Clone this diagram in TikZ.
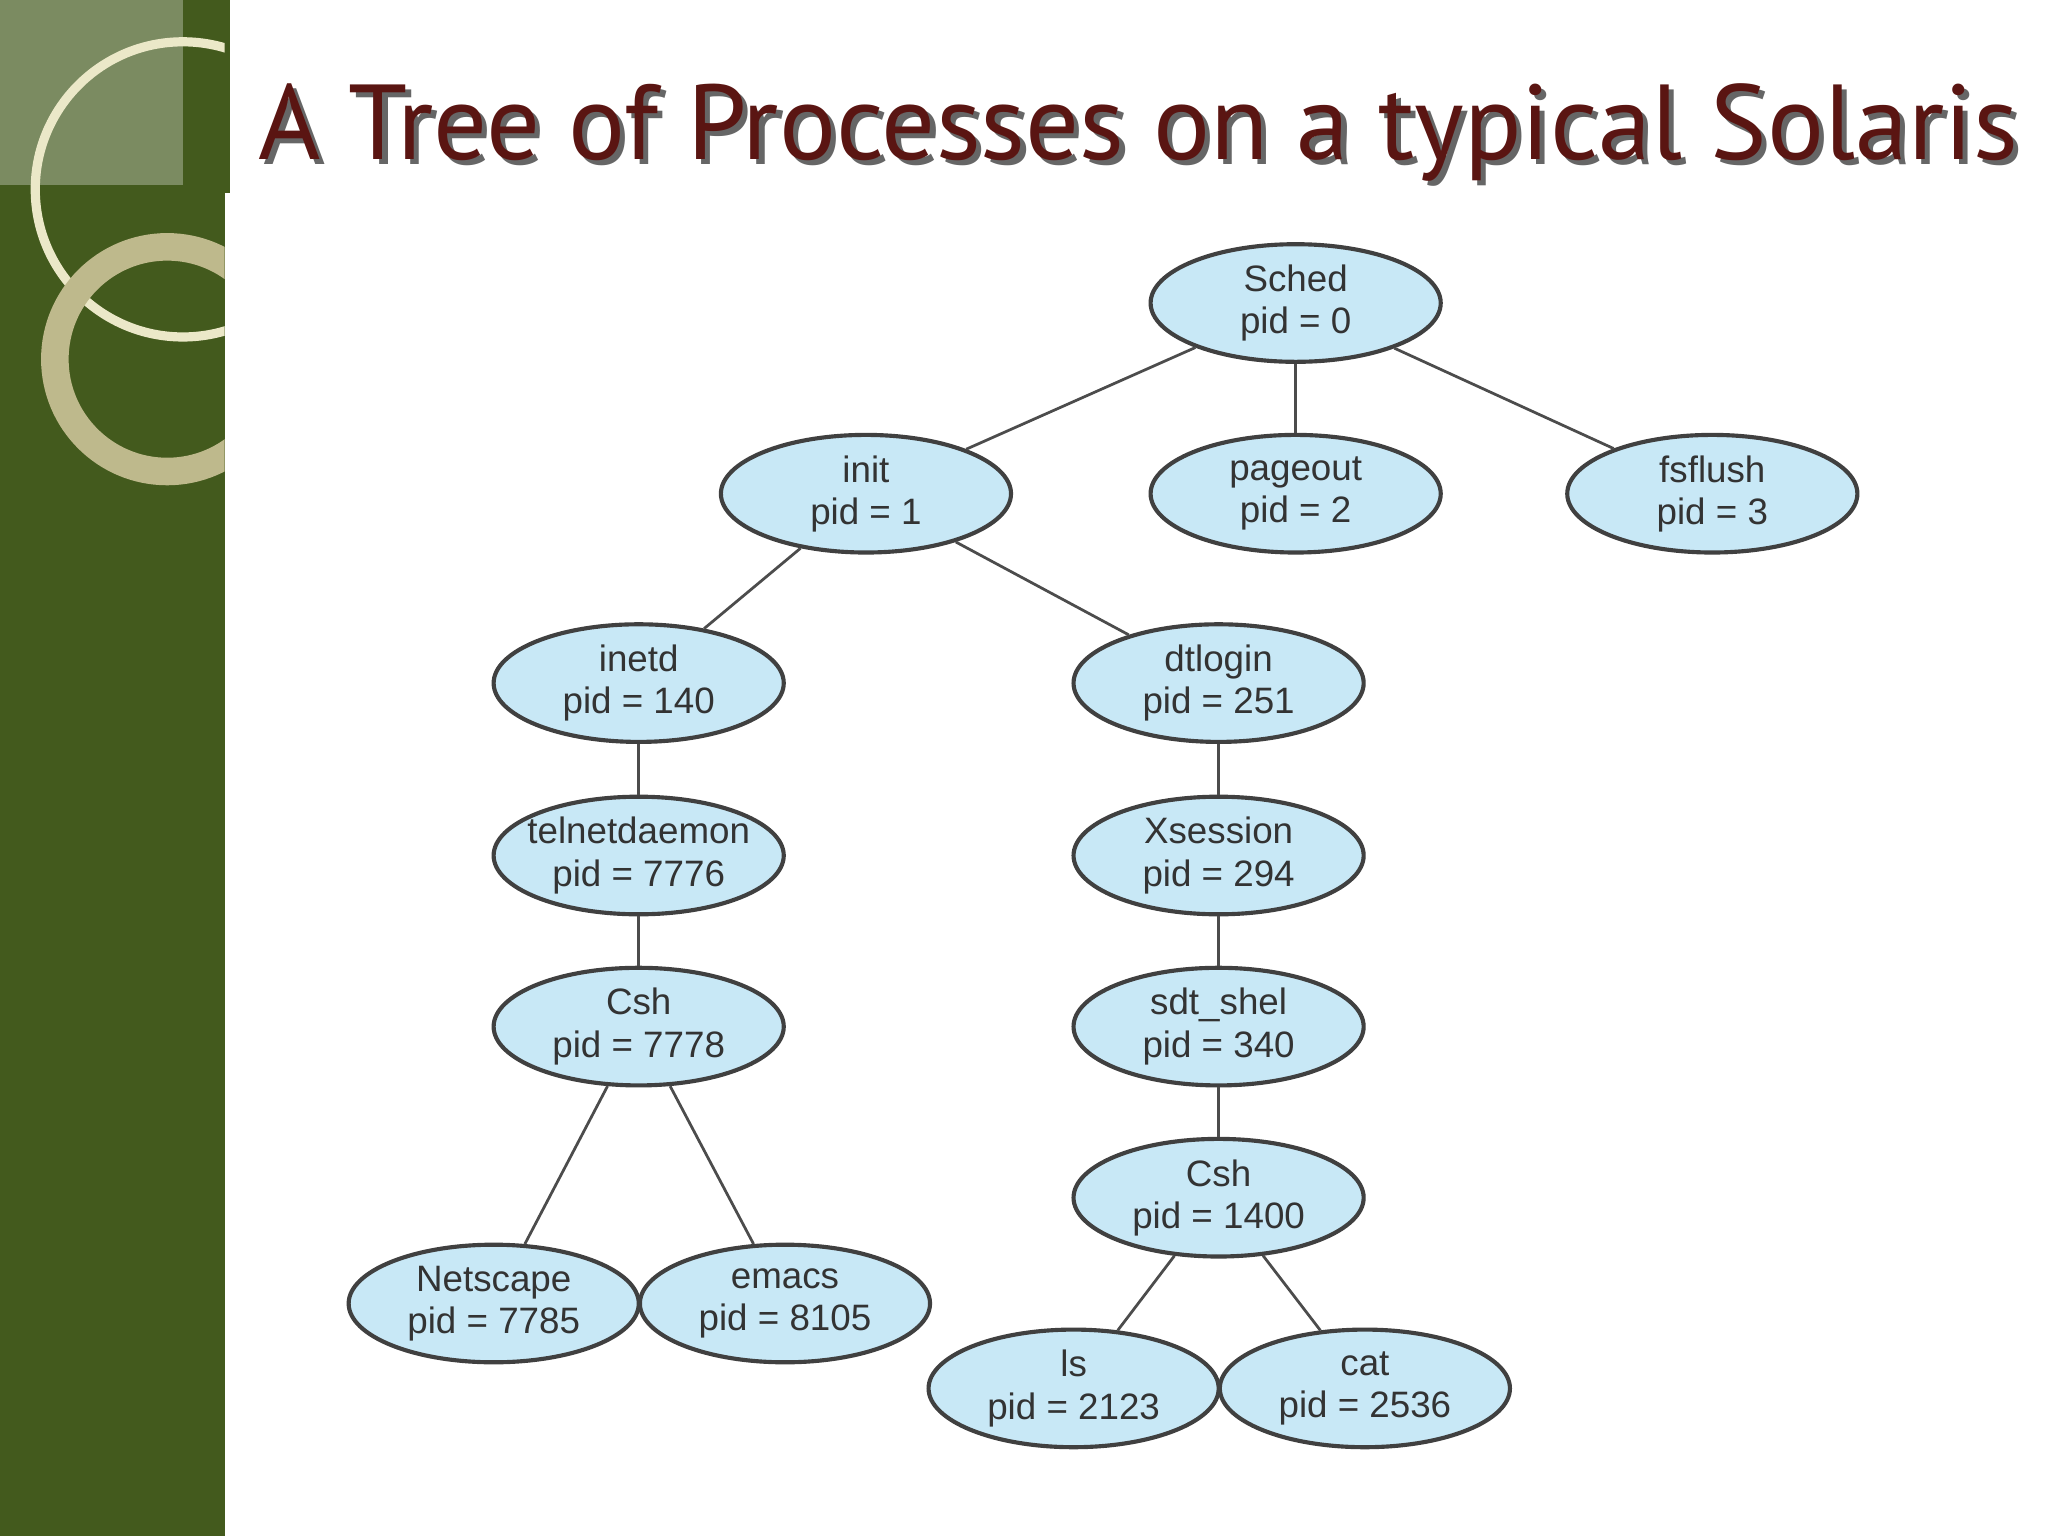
\documentclass[tikz,border=0pt]{standalone}
\usepackage{fontspec}
\setmainfont{Liberation Sans}
\newfontfamily\titlefont{PT Sans}
\usetikzlibrary{shapes.geometric}
\begin{document}
\begin{tikzpicture}[x=0.01cm,y=-0.01cm,
  proc/.style={ellipse,draw=black!75,line width=0.9pt,fill=procblue,minimum width=2.22cm,minimum height=0.9cm,inner sep=0pt,align=center,font=\fontsize{8pt}{9.2pt}\selectfont,text=black!80},
  edge/.style={draw=black!70,line width=0.6pt},
  ttl/.style={anchor=base west,inner sep=0pt,font=\titlefont\fontsize{23.2pt}{26pt}\selectfont}]
\definecolor{procblue}{HTML}{C8E8F6}
\definecolor{olive}{HTML}{435A1D}
\definecolor{titlered}{HTML}{5A1512}
\useasboundingbox (0,0) rectangle (1568,1176);
\fill[white] (0,0) rectangle (1568,1176);
\fill[olive] (0,0) rectangle (172,1176);
\fill[olive] (172,0) rectangle (176,148);
\fill[white,opacity=0.3] (0,0) rectangle (140,142);
\begin{scope}
\clip (0,0) rectangle (172,1176);
\draw[color={rgb,255:red,235;green,232;blue,200},line width=2pt] (140,145) circle (113);
\draw[color={rgb,255:red,190;green,185;blue,140},line width=6pt] (128,275) circle (86);
\end{scope}
\node[ttl,text=black!60] (titleshadow) at (201,126) {A Tree of Processes on a typical Solaris};
\node[ttl,text=titlered] (title) at (197,122) {A Tree of Processes on a typical Solaris};
\node[proc] (sched) at (992,232) {Sched\\pid = 0};
\node[proc] (init) at (663,378) {init\\pid = 1};
\node[proc] (pageout) at (992,378) {pageout\\pid = 2};
\node[proc] (fsflush) at (1311,378) {fsflush\\pid = 3};
\node[proc] (inetd) at (489,523) {inetd\\pid = 140};
\node[proc] (dtlogin) at (933,523) {dtlogin\\pid = 251};
\node[proc,inner xsep=-5pt] (telnet) at (489,655) {telnetdaemon\\pid = 7776};
\node[proc] (xsess) at (933,655) {Xsession\\pid = 294};
\node[proc] (csh1) at (489,786) {Csh\\pid = 7778};
\node[proc] (sdt) at (933,786) {sdt\_shel\\pid = 340};
\node[proc] (csh2) at (933,917) {Csh\\pid = 1400};
\node[proc] (netscape) at (378,998) {Netscape\\pid = 7785};
\node[proc] (emacs) at (601,998) {emacs\\pid = 8105};
\node[proc] (ls) at (822,1063) {ls\\pid = 2123};
\node[proc] (cat) at (1045,1063) {cat\\pid = 2536};
\draw[edge] (sched) -- (init);
\draw[edge] (sched) -- (pageout);
\draw[edge] (sched) -- (fsflush);
\draw[edge] (init) -- (inetd);
\draw[edge] (init) -- (dtlogin);
\draw[edge] (inetd) -- (telnet);
\draw[edge] (telnet) -- (csh1);
\draw[edge] (csh1) -- (netscape);
\draw[edge] (csh1) -- (emacs);
\draw[edge] (dtlogin) -- (xsess);
\draw[edge] (xsess) -- (sdt);
\draw[edge] (sdt) -- (csh2);
\draw[edge] (csh2) -- (ls);
\draw[edge] (csh2) -- (cat);
\end{tikzpicture}
\end{document}
